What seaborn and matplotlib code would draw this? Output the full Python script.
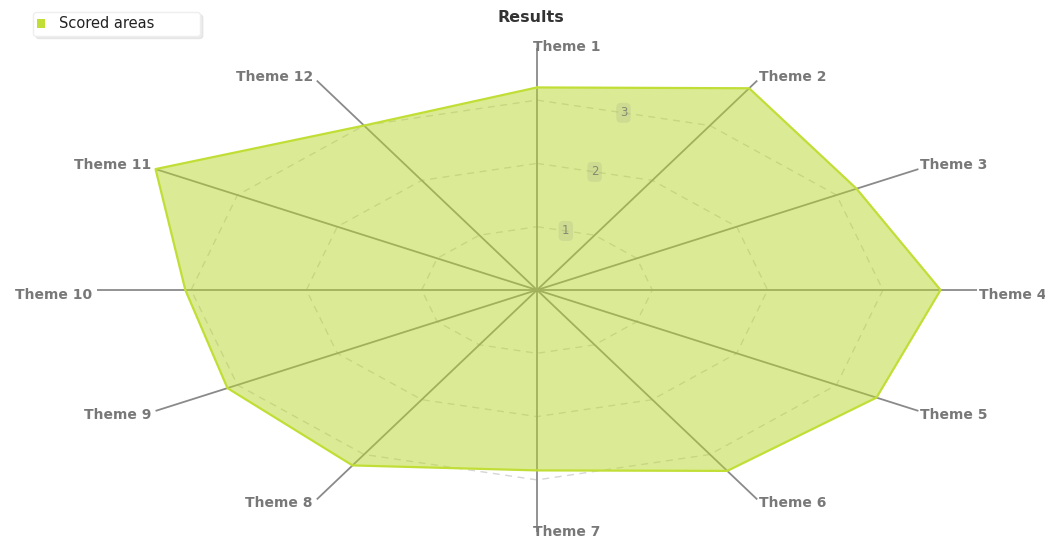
import numpy as np
import matplotlib
matplotlib.use("Agg")
import matplotlib.pyplot as plt
import seaborn as sns
import pandas as pd

# ---- data -------------------------------------------------------------
themes = ["Theme 1", "Theme 2", "Theme 3", "Theme 4", "Theme 5", "Theme 6",
          "Theme 7", "Theme 8", "Theme 9", "Theme 10", "Theme 11", "Theme 12"]
scores = [3.2, 3.68, 3.2, 3.5, 3.4, 3.3, 2.85, 3.2, 3.1, 3.05, 3.82, 3.0]
ring_levels = [1, 2, 3]
series_name = "Scored areas"
chart_title = "Results"

# ---- style ------------------------------------------------------------
sns.set_theme(style="white")
plt.rcParams["font.family"] = ["DejaVu Sans"]

fill_color = "#b8d82d"
edge_color = "#c0de36"
axis_color = "#8a8a8a"
ring_color = "#d6d6d6"
label_color = "#787878"

W, H = 1045, 537
fig = plt.figure(figsize=(W / 100, H / 100), dpi=100)
ax = fig.add_axes([0, 0, 1, 1])
ax.axis("off")

# stretched radar: different pixel scale per unit horizontally / vertically
cx_px, cy_px = 537, 290
unit_x, unit_y = 115.3, 63.3
ax.set_xlim(-cx_px / unit_x, (W - cx_px) / unit_x)
ax.set_ylim(-(H - cy_px) / unit_y, cy_px / unit_y)

n = len(themes)
angles = np.arange(n) * 2 * np.pi / n


def polar_xy(r, a):
    return np.asarray(r) * np.sin(a), np.asarray(r) * np.cos(a)


r_axis = max(scores)

# dashed polygonal grid rings
for lvl in ring_levels:
    rx, ry = polar_xy(np.full(n + 1, lvl), np.append(angles, angles[0]))
    ring_df = pd.DataFrame({"x": rx, "y": ry})
    sns.lineplot(data=ring_df, x="x", y="y", sort=False, estimator=None,
                 color=ring_color, lw=1.0, ax=ax, zorder=1,
                 dashes=False).lines[-1].set_dashes([5, 4])

# spokes
for a in angles:
    ex, ey = polar_xy(r_axis, a)
    ax.plot([0, ex], [0, ey], color=axis_color, lw=1.3, zorder=2,
            solid_capstyle="butt")

# scored area
sx, sy = polar_xy(np.append(scores, scores[0]), np.append(angles, angles[0]))
ax.fill(sx, sy, color=fill_color, alpha=0.5, lw=0, zorder=3, label=series_name)
area_df = pd.DataFrame({"x": sx, "y": sy})
sns.lineplot(data=area_df, x="x", y="y", sort=False, estimator=None,
             color=edge_color, lw=1.6, ax=ax, zorder=4)

# ring value labels, placed midway along the first ring edge
mid = np.pi / n
for lvl in ring_levels:
    lx, ly = polar_xy(lvl * np.cos(mid), mid)
    ax.text(lx, ly, str(lvl), ha="center", va="center", fontsize=8.5,
            color="#858a70", zorder=5,
            bbox=dict(boxstyle="round,pad=0.3,rounding_size=0.4",
                      fc="#a8b08a", ec="none", alpha=0.25))

# theme labels at the spoke ends
for name, a in zip(themes, angles):
    ex, ey = polar_xy(r_axis, a)
    s, c = np.sin(a), np.cos(a)
    if abs(s) < 1e-6:
        ha, dx = "left", -4
        dy = 1 if c > 0 else 0
    elif s > 0:
        ha, dx = "left", 2
        dy = 4 if c > 0.1 else (-4 if c < -0.1 else -5)
    else:
        ha, dx = "right", -4
        dy = 4 if c > 0.1 else (-4 if c < -0.1 else -5)
    ax.annotate(name, xy=(ex, ey), xytext=(dx, dy), textcoords="offset pixels",
                ha=ha, va="center", fontsize=10, fontweight="bold",
                color=label_color, zorder=6, annotation_clip=False)

# title
fig.text(531 / W, 1 - 17 / H, chart_title, ha="center", va="center",
         fontsize=11.5, fontweight="bold", color="#333333")

# legend
leg = ax.legend(loc="upper left",
                bbox_to_anchor=(33 / W, 1 - 33 / H, 167 / W, 21 / H),
                bbox_transform=fig.transFigure, mode="expand",
                borderaxespad=0, fontsize=10.5, frameon=True, fancybox=True,
                shadow={"shade": 0.15, "alpha": 0.5},
                handlelength=0.55, handleheight=0.55, handletextpad=0.9,
                borderpad=0.3, labelcolor="#222222")
frame = leg.get_frame()
frame.set_edgecolor("#eeeeee")
frame.set_facecolor("white")
frame.set_linewidth(1)
leg.legend_handles[0].set_alpha(1)
leg.legend_handles[0].set_facecolor(edge_color)

fig.savefig("out.png", dpi=100)
